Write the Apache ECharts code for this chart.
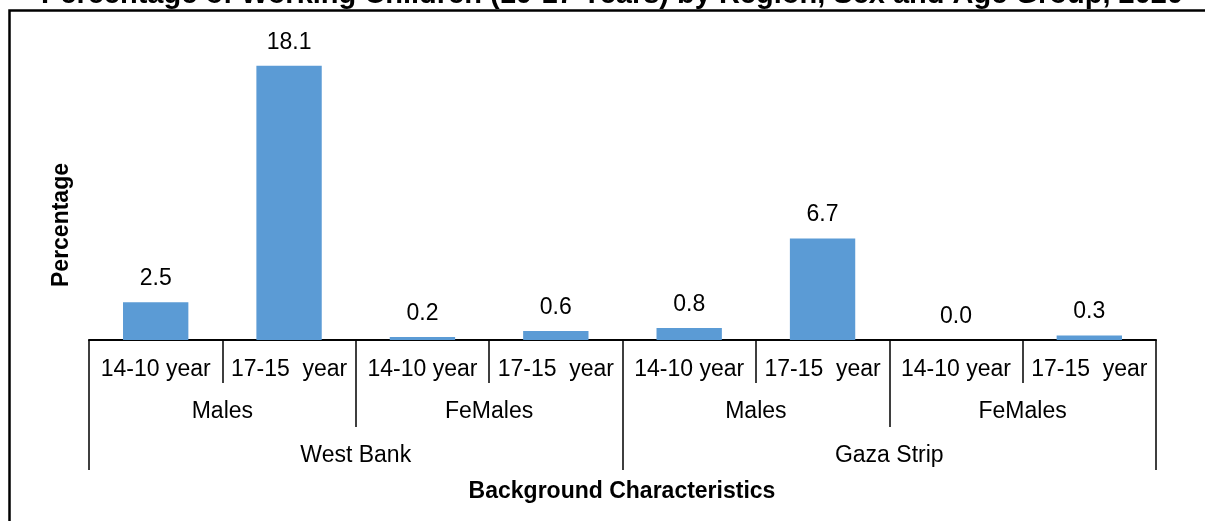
<!DOCTYPE html>
<html>
<head>
<meta charset="utf-8">
<script src="https://cdn.jsdelivr.net/npm/echarts@6/dist/echarts.min.js"></script>
<style>
html,body{margin:0;padding:0;background:#fff;}
#chart{width:1205px;height:521px;}
</style>
</head>
<body>
<div id="chart"></div>
<script>
const titleText = 'Percentage of Working Children (10-17 Years) by Region, Sex and Age Group, 2020';
const ageGroups = ['14-10 year', '17-15  year', '14-10 year', '17-15  year', '14-10 year', '17-15  year', '14-10 year', '17-15  year'];
const sexGroups = ['Males', 'FeMales', 'Males', 'FeMales'];
const regions = ['West Bank', 'Gaza Strip'];
const values = [2.5, 18.1, 0.2, 0.6, 0.8, 6.7, 0.0, 0.3];
const yAxisTitle = 'Percentage';
const xAxisTitle = 'Background Characteristics';

const FONT = "'Liberation Sans', Arial, sans-serif";
const chart = echarts.init(document.getElementById('chart'));

function levelAxis(data, tickLen, margin) {
  return {
    type: 'category',
    gridIndex: 0,
    position: 'bottom',
    data: data,
    axisLine: { show: true, onZero: false, lineStyle: { color: '#000', width: 1.5 } },
    axisTick: { show: true, length: tickLen, lineStyle: { color: '#000', width: 1.5 } },
    axisLabel: { interval: 0, margin: margin, color: '#000', fontSize: 23, fontFamily: FONT },
    splitLine: { show: false }
  };
}

chart.setOption({
  animation: false,
  backgroundColor: '#fff',
  grid: { left: 89, right: 49, top: 37, bottom: 181, containLabel: false },
  xAxis: [
    levelAxis(ageGroups, 43, 18),
    levelAxis(sexGroups, 87, 60),
    levelAxis(regions, 130, 104)
  ],
  yAxis: {
    type: 'value', min: 0, max: 20,
    show: false
  },
  series: [{
    type: 'bar',
    xAxisIndex: 0,
    data: values,
    barWidth: '49%',
    itemStyle: { color: '#5B9BD5' },
    label: {
      show: true, position: 'top', distance: 12,
      formatter: p => p.value.toFixed(1),
      color: '#000', fontSize: 23, fontFamily: FONT
    }
  }],
  graphic: [
    { type: 'rect', silent: true, shape: { x: 9.5, y: 10.5, width: 1400, height: 700 },
      style: { fill: 'none', stroke: '#000', lineWidth: 2.5 } },
    { type: 'text', x: 612, y: -5,
      style: { text: titleText, fill: '#000', font: "bold 29px " + FONT, textAlign: 'center', textVerticalAlign: 'middle' } },
    { type: 'text', x: 62, y: 225, rotation: Math.PI / 2,
      style: { text: yAxisTitle, fill: '#000', font: "bold 23px " + FONT, textAlign: 'center', textVerticalAlign: 'middle' } },
    { type: 'text', x: 622, y: 492,
      style: { text: xAxisTitle, fill: '#000', font: "bold 23px " + FONT, textAlign: 'center', textVerticalAlign: 'middle' } }
  ]
});
</script>
</body>
</html>
